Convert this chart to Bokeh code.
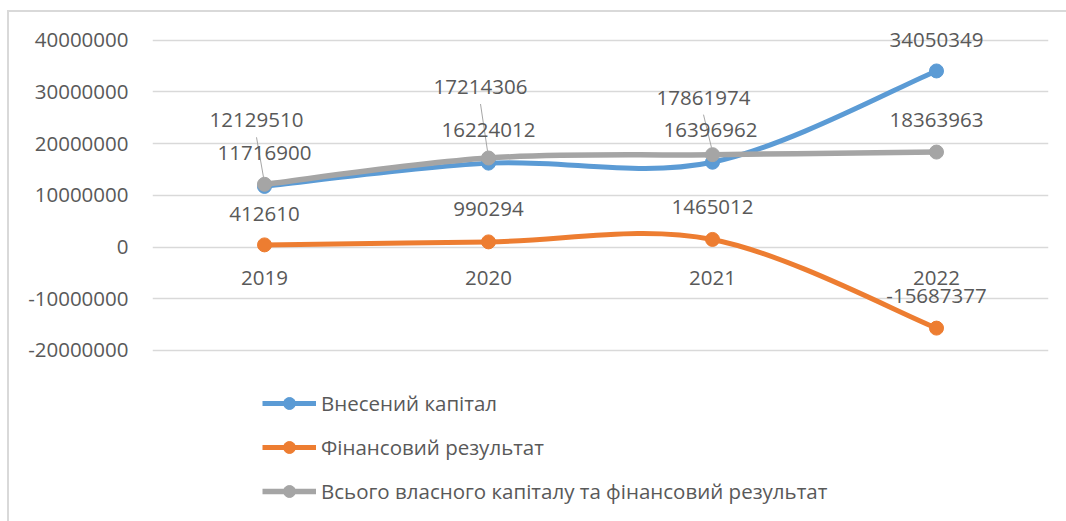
import numpy as np
from bokeh.plotting import figure
from bokeh.models import Range1d, FixedTicker, NumeralTickFormatter, ColumnDataSource
from bokeh.core.properties import value
from bokeh.embed import file_html
from bokeh.resources import INLINE

# ---------------- data ----------------
years = ["2019", "2020", "2021", "2022"]
contributed = [11716900, 16224012, 16396962, 34050349]
financial = [412610, 990294, 1465012, -15687377]
total = [12129510, 17214306, 17861974, 18363963]
y_ticks = [-20000000, -10000000, 0, 10000000, 20000000, 30000000, 40000000]
names = ["Внесений капітал", "Фінансовий результат",
         "Всього власного капіталу та фінансовий результат"]

# ---------------- style / layout ----------------
FONT = "Open Sans"
TXT = "#595959"
GRID = "#D9D9D9"
colors = ["#5B9BD5", "#ED7D31", "#A5A5A5"]
widths = [5, 5, 5.5]
W, H = 1059, 511
ML, MR, MT, MB = 143, 20, 8, 2
Y0, Y1 = -53.09e6, 43.81e6
X0, X1 = -0.5, 3.5
frame_w = W - ML - MR
frame_h = H - MT - MB
px_x = frame_w / (X1 - X0)
px_y = frame_h / (Y1 - Y0)

# label offsets (px): default above the marker
label_dx = {"c": [0, 0, -2, 0], "f": [0, 0, 0, 0], "t": [-8, -8, -9, 0]}
label_dy = {"c": [-33, -33, -32, -31], "f": [-31, -33, -32, -32], "t": [-64, -71, -57, -32]}
leader_idx = [0, 1, 2]

p = figure(width=W, height=H, x_range=Range1d(X0, X1), y_range=Range1d(Y0, Y1),
           min_border_left=ML, min_border_right=MR, min_border_top=MT, min_border_bottom=MB,
           x_axis_location=None, y_axis_location="left",
           output_backend="svg", toolbar_location=None)
p.outline_line_color = None
p.background_fill_color = "white"
p.border_fill_color = "white"
p.styles = {"border-top": "2px solid #D9D9D9", "border-left": "2px solid #D9D9D9",
            "box-sizing": "border-box", "margin-left": "7px", "margin-top": "10px"}

for g in p.grid:
    if g.dimension == 0:
        g.visible = False

ax = p.yaxis[0]
ax.ticker = FixedTicker(ticks=y_ticks)
ax.formatter = NumeralTickFormatter(format="0")
ax.axis_line_color = None
ax.major_tick_line_color = None
ax.minor_tick_line_color = None
ax.major_tick_out = 0
ax.major_tick_in = 0
ax.major_label_standoff = 24
ax.major_label_text_font = FONT
ax.major_label_text_font_size = "20.5px"
ax.major_label_text_color = TXT
p.ygrid.ticker = FixedTicker(ticks=y_ticks)
p.ygrid.grid_line_color = GRID
p.ygrid.grid_line_width = 1.5

xs = np.arange(len(years), dtype=float)


def smooth_segments(y):
    y = np.asarray(y, dtype=float)
    n = len(y)
    ext_x = np.concatenate([[xs[0]], xs, [xs[-1]]])
    ext_y = np.concatenate([[y[0]], y, [y[-1]]])
    d = {"x0": [], "y0": [], "x1": [], "y1": [], "cx0": [], "cy0": [], "cx1": [], "cy1": []}
    for i in range(n - 1):
        a = i + 1
        d["x0"].append(ext_x[a]); d["y0"].append(ext_y[a])
        d["x1"].append(ext_x[a + 1]); d["y1"].append(ext_y[a + 1])
        d["cx0"].append(ext_x[a] + (ext_x[a + 1] - ext_x[a - 1]) / 6)
        d["cy0"].append(ext_y[a] + (ext_y[a + 1] - ext_y[a - 1]) / 6)
        d["cx1"].append(ext_x[a + 1] - (ext_x[a + 2] - ext_x[a]) / 6)
        d["cy1"].append(ext_y[a + 1] - (ext_y[a + 2] - ext_y[a]) / 6)
    return ColumnDataSource(d)


series = [("c", contributed), ("f", financial), ("t", total)]
for k, ((key, vals), col, lw, nm) in enumerate(zip(series, colors, widths, names)):
    p.bezier(x0="x0", y0="y0", x1="x1", y1="y1", cx0="cx0", cy0="cy0", cx1="cx1", cy1="cy1",
             source=smooth_segments(vals), line_color=col, line_width=lw, legend_label=nm)
    p.scatter(xs, vals, size=14, marker="circle", fill_color=col, line_color=col,
              legend_label=nm)

# leader lines for the total series labels
lx0, ly0, lx1, ly1 = [], [], [], []
for i in leader_idx:
    lx0.append(xs[i] + label_dx["t"][i] / px_x)
    ly0.append(total[i] - (label_dy["t"][i] + 17) / px_y)
    lx1.append(xs[i] - 1 / px_x)
    ly1.append(total[i] + 7 / px_y)
p.segment(lx0, ly0, lx1, ly1, line_color="#A6A6A6", line_width=1)

# data labels
for key, vals in series:
    p.text(x=xs, y=vals, text=[str(v) for v in vals],
           x_offset=label_dx[key], y_offset=label_dy[key],
           text_align="center", text_baseline="middle",
           text_font=value(FONT), text_font_size="20.5px", text_color=TXT)

# category labels on the zero line
p.text(x=xs, y=[0] * len(years), text=years, y_offset=31,
       text_align="center", text_baseline="middle",
       text_font=value(FONT), text_font_size="20.5px", text_color=TXT)

lg = p.legend[0]
lg.location = (110, 15)
lg.orientation = "vertical"
lg.glyph_width = 54
lg.glyph_height = 30
lg.label_height = 30
lg.spacing = 14
lg.padding = 0
lg.margin = 0
lg.label_standoff = 5
lg.border_line_color = None
lg.background_fill_alpha = 0
lg.label_text_font = FONT
lg.label_text_font_size = "20.5px"
lg.label_text_color = TXT

open("out.html", "w").write(file_html(p, INLINE))
